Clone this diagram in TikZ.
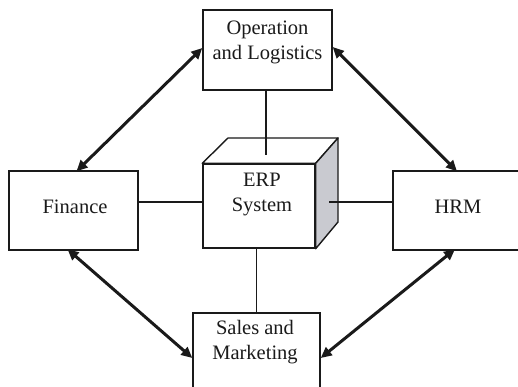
\documentclass[tikz,border=0pt]{standalone}
\usepackage{fontspec}
\setmainfont{Liberation Serif}
\usetikzlibrary{arrows.meta}
\definecolor{ink}{HTML}{1A1A1A}
\definecolor{sidegray}{HTML}{C9CAD0}
\tikzset{
  box/.style={draw=ink, line width=1.4pt, fill=white, rectangle, inner sep=0pt},
  lbl/.style={align=center, text=ink, inner sep=0pt, font=\fontsize{20.5}{25}\selectfont},
  link/.style={draw=ink, line width=1.4pt},
  biarrow/.style={draw=ink, line width=3pt, {Triangle[length=11pt,width=10pt]}-{Triangle[length=11pt,width=10pt]}}
}
\begin{document}
\begin{tikzpicture}[x=1pt,y=-1pt]
\clip (0,0) rectangle (518,387);
\fill[white] (0,0) rectangle (518,387);
% boxes
\node[box, minimum width=129pt, minimum height=80pt] (op) at (267.5,50) {};
\node[box, minimum width=129pt, minimum height=79pt] (fin) at (73.5,210.5) {};
\node[box, minimum width=130pt, minimum height=79pt] (hrm) at (458,210.5) {};
\node[box, minimum width=127pt, minimum height=90pt] (sales) at (256.5,358) {};
% cube
\node[box, minimum width=112pt, minimum height=84pt] (erp) at (259,206) {};
\coordinate (tl) at (228,138);
\coordinate (tr) at (338,138);
\coordinate (br) at (338,222);
\filldraw[fill=white, draw=ink, line width=1.4pt, line join=round] (erp.north west) -- (tl) -- (tr) -- (erp.north east) -- cycle;
\filldraw[fill=sidegray, draw=ink, line width=1.4pt, line join=round] (erp.north east) -- (tr) -- (br) -- (erp.south east) -- cycle;
\coordinate (erptop) at (266,155);
\coordinate (erpmid) at (0,202);
\coordinate (erpright) at (329,202);
% labels
\node[lbl] (opl) at (267.5,42) {Operation\\and Logistics};
\node[lbl] (finl) at (75,207) {Finance};
\node[lbl] (hrml) at (458,207) {HRM};
\node[lbl] (erpl) at (262,195) {ERP\\System};
\node[lbl] (salesl) at (255,342) {Sales and\\Marketing};
% plain links
\draw[link] (erptop -| op.south) ++(-1.5,0) coordinate (q1) -- (q1 |- op.south);
\draw[link] (fin.east |- erpmid) -- (erp.west |- erpmid);
\draw[link] (erpright) -- (hrm.west |- erpright);
\draw[link] (sales.north) -- (sales.north |- erp.south);
% double arrows
\draw[biarrow] ([yshift=2pt]op.west) -- ([xshift=3pt,yshift=-1pt]fin.north);
\draw[biarrow] ([yshift=3pt]op.east) -- ([xshift=-1pt,yshift=-1pt]hrm.north);
\draw[biarrow] ([xshift=-6pt,yshift=1.5pt]fin.south) -- (sales.west);
\draw[biarrow] ([xshift=-3pt,yshift=1.5pt]hrm.south) -- (sales.east);
\end{tikzpicture}
\end{document}
